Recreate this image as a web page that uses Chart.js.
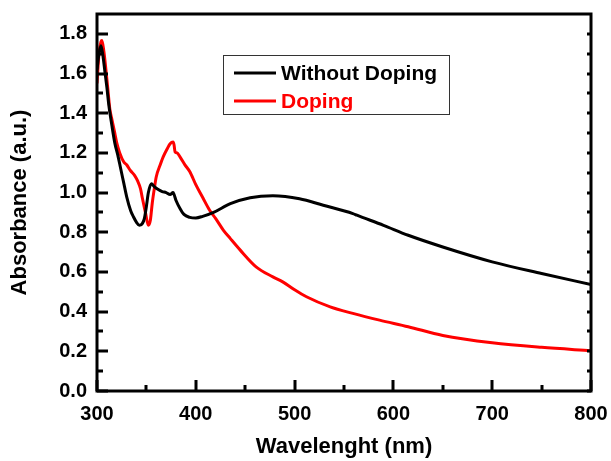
<!DOCTYPE html>
<html>
<head>
<meta charset="utf-8">
<script src="https://cdn.jsdelivr.net/npm/chart.js@4"></script>
<style>
html,body{margin:0;padding:0;background:#fff;}
#wrap{width:611px;height:461px;}
</style>
</head>
<body>
<div id="wrap"><canvas id="c" width="611" height="461"></canvas></div>
<script>
// ---- data ----
const seriesNames = ["Without Doping", "Doping"];
const wavelengthBlack = [300,302,304,306,308,310,312,315,318,321,324,327,330,334,337,340,343,346,348,350,352,355,358,362,366,370,374,377,378,380,384,388,394,400,407,418,435,455,478,505,529,559,563,590,615,650,700,750,800];
const absorbanceBlack = [1.62,1.70,1.74,1.69,1.61,1.53,1.44,1.34,1.25,1.19,1.12,1.05,0.98,0.91,0.877,0.85,0.835,0.845,0.87,0.93,1.00,1.045,1.03,1.015,1.005,1.00,0.99,1.00,0.99,0.96,0.92,0.89,0.875,0.872,0.88,0.90,0.944,0.974,0.984,0.969,0.936,0.894,0.886,0.835,0.785,0.726,0.651,0.592,0.537];
const wavelengthRed = [300,302,304,305,307,309,311,313,315,318,320,323,327,330,334,338,341,344,346,349,352,354,356,358,360,364,367,371,374,377,378,379,381,384,389,394,400,407,414,420,428,435,445,461,478,488,500,512,536,559,586,615,650,700,750,800];
const absorbanceRed = [1.55,1.70,1.76,1.766,1.71,1.62,1.52,1.42,1.37,1.30,1.25,1.20,1.155,1.14,1.11,1.087,1.06,1.02,0.97,0.90,0.835,0.86,0.95,1.02,1.08,1.14,1.18,1.22,1.246,1.255,1.24,1.205,1.20,1.18,1.14,1.105,1.04,0.975,0.911,0.87,0.81,0.768,0.71,0.626,0.575,0.55,0.51,0.475,0.424,0.391,0.357,0.324,0.28,0.243,0.22,0.203];
const xTickValues = [300,400,500,600,700,800];
const yTickValues = [0.0,0.2,0.4,0.6,0.8,1.0,1.2,1.4,1.6,1.8];
const xTitle = "Wavelenght (nm)";
const yTitle = "Absorbance (a.u.)";

const toXY = (xs, ys) => xs.map((x, i) => ({x: x, y: ys[i]}));

const framePlugin = {
  id: 'frame',
  afterDraw(chart) {
    const ctx = chart.ctx;
    const a = chart.chartArea;
    const xs = chart.scales.x, ys = chart.scales.y;
    ctx.save();
    ctx.strokeStyle = '#000';
    ctx.lineWidth = 3;
    ctx.lineCap = 'butt';
    ctx.beginPath();
    for (let v = 0; v <= 1.85; v += 0.1) {
      const py = Math.round(ys.getPixelForValue(v));
      const major = Math.abs(Math.round(v * 10) % 2) === 0;
      const len = major ? 11 : 6;
      ctx.moveTo(a.left, py); ctx.lineTo(a.left + len, py);
      ctx.moveTo(a.right, py); ctx.lineTo(a.right - 4, py);
    }
    for (let v = 300; v <= 800; v += 50) {
      const px = Math.round(xs.getPixelForValue(v));
      const major = v % 100 === 0;
      const len = major ? 11 : 6;
      ctx.moveTo(px, a.bottom); ctx.lineTo(px, a.bottom - len);
    }
    ctx.stroke();
    ctx.strokeRect(a.left, a.top, a.right - a.left, a.bottom - a.top);

    // legend box
    const bx = 223, by = 55, bw = 226, bh = 59;
    ctx.lineWidth = 1;
    ctx.strokeStyle = '#333';
    ctx.strokeRect(bx + 0.5, by + 0.5, bw, bh);
    ctx.font = 'bold 21px "Liberation Sans", Arial, sans-serif';
    ctx.textBaseline = 'middle';
    ctx.textAlign = 'left';
    const rows = [73, 101];
    chart.data.datasets.forEach((ds, i) => {
      const yy = rows[i];
      ctx.strokeStyle = ds.borderColor;
      ctx.lineWidth = 3;
      ctx.beginPath();
      ctx.moveTo(234, yy); ctx.lineTo(276, yy);
      ctx.stroke();
      ctx.fillStyle = ds.borderColor;
      ctx.fillText(ds.label, 281, yy + 1);
    });
    ctx.restore();
  }
};

new Chart(document.getElementById('c'), {
  type: 'line',
  data: {
    datasets: [
      {label: seriesNames[0], data: toXY(wavelengthBlack, absorbanceBlack), borderColor: '#000000', borderWidth: 3, pointRadius: 0, tension: 0.4, cubicInterpolationMode: 'monotone', fill: false},
      {label: seriesNames[1], data: toXY(wavelengthRed, absorbanceRed), borderColor: '#ff0000', borderWidth: 3, pointRadius: 0, tension: 0.4, cubicInterpolationMode: 'monotone', fill: false}
    ]
  },
  options: {
    responsive: false,
    animation: false,
    devicePixelRatio: 1,
    layout: {padding: {top: 13, right: 20, left: 0, bottom: 0}},
    plugins: {legend: {display: false}, tooltip: {enabled: false}},
    scales: {
      x: {
        type: 'linear', min: 300, max: 800,
        afterBuildTicks: s => { s.ticks = xTickValues.map(v => ({value: v})); },
        afterFit: s => { s.height = 70; },
        grid: {display: false},
        border: {display: false},
        ticks: {
          color: '#000', padding: 3, maxRotation: 0, autoSkip: false,
          font: {family: '"Liberation Sans", Arial, sans-serif', size: 20, weight: 'bold'},
          callback: v => String(v)
        },
        title: {display: true, text: xTitle, color: '#000', padding: {top: 0, bottom: 1},
          font: {family: '"Liberation Sans", Arial, sans-serif', size: 22, weight: 'bold'}}
      },
      y: {
        type: 'linear', min: 0, max: 1.9,
        afterBuildTicks: s => { s.ticks = yTickValues.map(v => ({value: v})); },
        afterFit: s => { s.width = 97; },
        grid: {display: false},
        border: {display: false},
        ticks: {
          color: '#000', padding: 2, autoSkip: false,
          font: {family: '"Liberation Sans", Arial, sans-serif', size: 20, weight: 'bold'},
          callback: v => Number(v).toFixed(1)
        },
        title: {display: true, text: yTitle, color: '#000', padding: {top: 7, bottom: 0},
          font: {family: '"Liberation Sans", Arial, sans-serif', size: 22, weight: 'bold'}}
      }
    }
  },
  plugins: [framePlugin]
});
</script>
</body>
</html>
